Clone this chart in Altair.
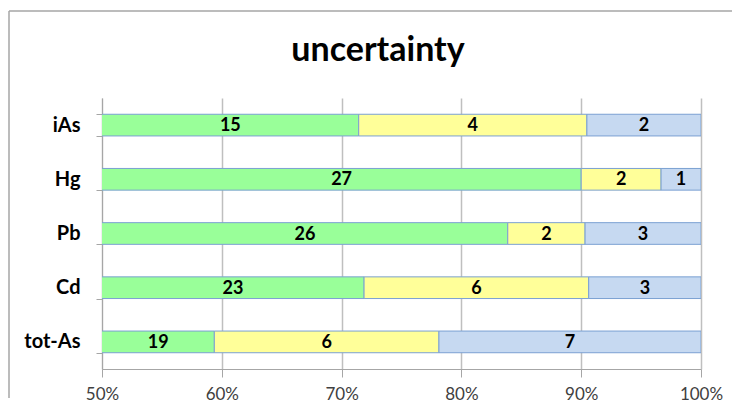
import altair as alt
import pandas as pd

categories = ["iAs", "Hg", "Pb", "Cd", "tot-As"]
series = ["s1", "s2", "s3"]
values_s1 = [15, 27, 26, 23, 19]
values_s2 = [4, 2, 2, 6, 6]
values_s3 = [2, 1, 3, 3, 7]
colors = ["#99FF99", "#FFFF99", "#C6D9F1"]
x_ticks = [0.5, 0.6, 0.7, 0.8, 0.9, 1.0]
title_text = ["uncertainty"]

rows = []
for i, c in enumerate(categories):
    for k, vals in enumerate([values_s1, values_s2, values_s3]):
        rows.append({"cat": c, "series": series[k], "order": k, "value": vals[i]})
df = pd.DataFrame(rows)

FONT = "Lato"

base = alt.Chart(df).transform_stack(
    stack="value",
    groupby=["cat"],
    as_=["x0", "x1"],
    offset="normalize",
    sort=[alt.SortField("order", order="ascending")],
)

y_enc = alt.Y(
    "cat:N",
    sort=categories,
    scale=alt.Scale(paddingInner=0.6, paddingOuter=0.3),
    axis=alt.Axis(
        title=None,
        tickBand="extent",
        tickSize=6,
        tickColor="#A6A6A6",
        domainColor="#A6A6A6",
        labelFont=FONT,
        labelFontSize=20,
        labelFontWeight="bold",
        labelColor="#000000",
        labelPadding=16,
        grid=False,
    ),
)

bars = base.mark_bar(clip=True, stroke="#7BA0D2", strokeWidth=1).encode(
    x=alt.X(
        "x0:Q",
        scale=alt.Scale(domain=[0.5, 1.0], nice=False, zero=False),
        axis=alt.Axis(
            title=None,
            values=x_ticks,
            format=".0%",
            tickSize=8,
            tickColor="#A6A6A6",
            domainColor="#A6A6A6",
            gridColor="#BFBFBF",
            gridWidth=1.5,
            labelFont=FONT,
            labelFontSize=17,
            labelColor="#404040",
            labelPadding=9,
            labelFlush=False,
        ),
    ),
    x2="x1:Q",
    y=y_enc,
    color=alt.Color("series:N", scale=alt.Scale(domain=series, range=colors), legend=None),
)

labels = base.transform_calculate(
    mid="(max(0.5, datum.x0) + datum.x1) / 2"
).mark_text(
    font=FONT, fontSize=18, fontWeight="bold", color="#000000", baseline="middle", dy=1
).encode(
    x="mid:Q",
    y=alt.Y("cat:N", sort=categories),
    text="value:Q",
)

frame_df = pd.DataFrame({"a": [0]})
frame_top = alt.Chart(frame_df).mark_rule(
    stroke="#A6A6A6", strokeWidth=1.5, clip=False
).encode(x=alt.value(-93), x2=alt.value(640), y=alt.value(-87))
frame_left = alt.Chart(frame_df).mark_rule(
    stroke="#A6A6A6", strokeWidth=1.5, clip=False
).encode(x=alt.value(-93), y=alt.value(-87), y2=alt.value(300))

title = alt.Chart(pd.DataFrame({"t": title_text})).mark_text(
    font=FONT, fontSize=34, fontWeight="bold", color="#000000",
    align="center", baseline="middle", clip=False,
).encode(
    x=alt.value(276), y=alt.value(-47), text="t:N"
)

chart = (
    alt.layer(frame_top, frame_left, bars, labels, title)
    .properties(
        width=599,
        height=271,
        autosize=alt.AutoSizeParams(type="none"),
        padding={"left": 94, "top": 90, "right": 31, "bottom": 33},
    )
    .configure_view(stroke=None)
)

chart.save("out.html", embed_options={"renderer": "svg", "actions": False})
